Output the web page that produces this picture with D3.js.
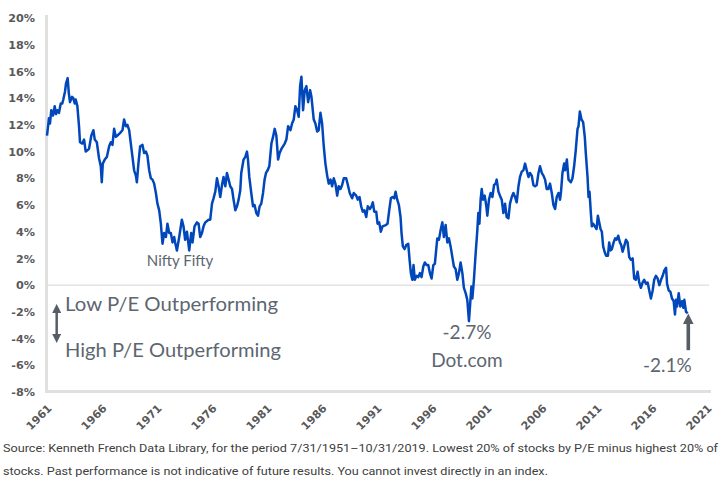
<!DOCTYPE html>
<html><head><meta charset="utf-8">
<script src="https://cdn.jsdelivr.net/npm/d3@7"></script>
<style>body{margin:0;background:#fff}svg{display:block}</style>
</head><body><svg id="c" width="721" height="498"></svg>
<script>
const years = [1961.5,1961.68,1961.77,1961.89,1962.05,1962.20,1962.32,1962.44,1962.59,1962.75,1962.89,1962.98,1963.14,1963.23,1963.38,1963.48,1963.59,1963.78,1963.89,1964.02,1964.11,1964.26,1964.41,1964.50,1964.71,1964.87,1965.02,1965.17,1965.32,1965.53,1965.72,1965.84,1966.03,1966.23,1966.39,1966.48,1966.57,1966.75,1966.94,1967.15,1967.30,1967.45,1967.60,1967.76,1967.90,1968.15,1968.36,1968.51,1968.67,1968.81,1968.97,1969.12,1969.27,1969.42,1969.58,1969.67,1969.81,1969.97,1970.18,1970.33,1970.49,1970.63,1970.79,1970.94,1971.09,1971.24,1971.40,1971.54,1971.70,1971.85,1972.00,1972.15,1972.31,1972.45,1972.61,1972.76,1972.91,1973.06,1973.15,1973.31,1973.52,1973.76,1973.91,1974.06,1974.22,1974.43,1974.61,1974.73,1974.91,1975.13,1975.28,1975.43,1975.59,1975.73,1975.89,1976.19,1976.34,1976.50,1976.64,1976.80,1976.95,1977.10,1977.25,1977.41,1977.55,1977.71,1977.86,1978.01,1978.16,1978.32,1978.46,1978.62,1978.77,1978.92,1979.07,1979.16,1979.37,1979.53,1979.68,1979.77,1979.89,1980.07,1980.23,1980.37,1980.53,1980.68,1980.83,1980.98,1981.14,1981.28,1981.41,1981.56,1981.71,1981.90,1982.05,1982.20,1982.35,1982.51,1982.65,1982.81,1983.11,1983.26,1983.42,1983.63,1983.78,1983.93,1984.08,1984.24,1984.38,1984.51,1984.63,1984.78,1984.93,1985.08,1985.24,1985.42,1985.54,1985.75,1985.90,1986.06,1986.20,1986.36,1986.51,1986.66,1986.81,1986.97,1987.11,1987.27,1987.42,1987.57,1987.72,1987.88,1988.02,1988.18,1988.33,1988.48,1988.70,1988.88,1989.02,1989.24,1989.39,1989.61,1989.75,1989.91,1990.06,1990.21,1990.36,1990.52,1990.66,1990.85,1991.00,1991.12,1991.25,1991.43,1991.55,1991.70,1991.85,1992.00,1992.30,1992.46,1992.61,1992.76,1992.91,1993.07,1993.19,1993.34,1993.49,1993.64,1993.73,1993.85,1994.01,1994.16,1994.34,1994.46,1994.58,1994.71,1994.82,1994.94,1995.10,1995.25,1995.40,1995.55,1995.71,1995.85,1996.01,1996.16,1996.31,1996.46,1996.62,1996.76,1996.98,1997.13,1997.28,1997.44,1997.58,1997.74,1997.89,1998.04,1998.19,1998.35,1998.49,1998.65,1998.80,1998.95,1999.10,1999.26,1999.40,1999.56,1999.71,1999.86,2000.08,2000.17,2000.31,2000.47,2000.62,2000.71,2000.81,2000.92,2001.02,2001.13,2001.29,2001.44,2001.53,2001.68,2001.83,2001.99,2002.14,2002.29,2002.38,2002.54,2002.68,2002.84,2002.99,2003.14,2003.29,2003.45,2003.59,2003.75,2003.90,2004.05,2004.20,2004.36,2004.50,2004.66,2004.81,2004.96,2005.11,2005.27,2005.41,2005.57,2005.72,2005.87,2006.02,2006.18,2006.32,2006.48,2006.63,2006.78,2006.93,2007.09,2007.23,2007.39,2007.54,2007.69,2007.84,2008.00,2008.14,2008.23,2008.36,2008.51,2008.60,2008.76,2008.91,2009.12,2009.27,2009.42,2009.57,2009.73,2009.82,2009.94,2010.09,2010.24,2010.39,2010.48,2010.64,2010.73,2010.82,2010.94,2011.03,2011.15,2011.30,2011.46,2011.58,2011.70,2011.82,2011.94,2012.06,2012.19,2012.33,2012.49,2012.61,2012.73,2012.85,2013.01,2013.15,2013.28,2013.43,2013.58,2013.70,2013.83,2013.97,2014.13,2014.28,2014.43,2014.58,2014.74,2014.88,2015.03,2015.19,2015.34,2015.49,2015.65,2015.79,2015.95,2016.10,2016.25,2016.40,2016.56,2016.70,2016.86,2017.01,2017.17,2017.32,2017.47,2017.62,2017.78,2017.87,2018.02,2018.17,2018.32,2018.47,2018.59,2018.68,2018.77,2018.93,2019.07,2019.23,2019.35,2019.44,2019.59,2019.75];
const values = [11.2,12.5,12.1,13.1,12.7,13.4,12.8,13.1,12.9,13.6,13.6,13.9,14.5,15.1,15.5,14.4,13.7,14.1,14.0,13.6,13.9,13.4,11.9,10.7,10.6,10.9,10.0,10.1,10.2,11.2,11.6,10.9,10.7,9.5,8.9,7.7,9.1,9.4,9.6,10.4,10.7,10.5,11.7,11.1,11.2,11.4,11.6,12.4,11.9,12.0,11.6,10.6,9.6,8.6,8.2,7.7,9.1,10.4,10.5,9.9,10.0,9.7,8.6,8.0,7.9,7.6,6.9,6.1,5.6,4.6,3.1,3.9,3.6,4.6,3.9,3.9,3.2,3.6,3.2,2.6,3.6,4.9,4.4,3.4,4.0,2.6,3.9,3.2,4.4,4.7,4.6,3.6,3.9,4.4,4.7,4.9,4.9,6.1,6.5,7.0,8.0,7.4,6.6,7.5,8.1,7.4,8.4,7.9,7.4,7.2,6.4,5.6,5.9,6.4,7.1,8.4,9.4,9.6,10.0,9.4,8.1,6.9,5.9,6.0,5.4,5.2,5.9,6.1,6.9,7.9,8.4,8.6,8.9,10.6,11.1,11.7,11.2,9.4,9.9,10.2,10.6,10.9,11.9,11.6,12.1,12.4,13.4,13.1,12.6,14.9,15.6,13.1,14.6,14.9,13.7,14.6,14.1,12.4,12.1,11.5,11.6,12.9,12.1,10.4,9.1,8.2,7.6,7.9,7.4,8.0,7.6,6.7,7.4,7.2,7.5,8.0,8.0,7.4,6.9,6.5,6.9,6.7,6.4,6.6,5.9,5.5,5.6,5.1,5.9,5.7,5.9,6.2,5.5,5.5,4.6,4.7,4.0,4.4,4.5,4.6,5.6,6.5,6.6,6.5,7.0,6.4,6.0,5.1,3.9,2.9,2.7,3.0,3.1,1.9,0.9,0.4,1.5,0.4,0.7,0.6,0.9,0.6,1.4,1.7,1.5,1.5,0.9,0.5,1.5,1.6,3.5,3.4,4.1,4.7,3.6,4.5,3.2,3.5,2.9,2.1,1.4,1.2,0.4,0.9,1.7,0.9,-0.2,-0.6,-1.1,-2.7,-0.1,-1.0,0.4,2.4,4.1,5.4,4.6,6.4,7.2,6.4,6.7,5.9,5.2,6.4,6.9,6.6,7.5,7.6,7.9,7.0,6.7,6.4,5.4,6.1,5.1,5.0,6.1,6.6,6.9,6.6,6.2,7.4,8.1,8.5,8.6,9.1,8.6,8.1,8.4,8.2,7.5,7.4,7.5,8.4,8.9,8.4,8.2,7.9,7.2,7.2,7.6,6.9,6.0,5.7,6.6,6.9,6.4,7.0,8.4,9.1,8.6,9.4,7.9,7.7,8.0,8.9,10.1,11.7,11.9,13.0,12.4,12.2,11.1,9.9,8.1,6.6,7.0,5.4,4.4,4.6,4.4,4.2,5.2,4.7,4.2,4.0,2.9,2.5,2.2,2.2,3.2,2.6,2.7,3.2,3.5,3.4,3.7,3.2,3.0,2.5,2.9,3.4,3.2,2.1,1.9,2.0,0.5,0.4,1.0,0.2,-0.2,0.2,0.4,0.1,0.2,-0.4,-1.0,-0.4,0.4,0.7,0.5,0.0,0.4,0.7,1.1,1.3,0.1,-0.4,-0.5,-1.0,-1.2,-2.2,-1.1,-1.6,-0.6,-1.6,-1.2,-1.7,-1.1,-2.0,-2.1];
const yTicks = [-8,-6,-4,-2,0,2,4,6,8,10,12,14,16,18,20];
const xTickYears = [1961,1966,1971,1976,1981,1986,1991,1996,2001,2006,2011,2016,2021];
const sourceLines = [
  "Source: Kenneth French Data Library, for the period 7/31/1951\u201310/31/2019. Lowest 20% of stocks by P/E minus highest 20% of",
  "stocks. Past performance is not indicative of future results. You cannot invest directly in an index."
];
const labelLow = "Low P/E Outperforming";
const labelHigh = "High P/E Outperforming";
const labelNifty = "Nifty Fifty";
const labelDot = "Dot.com";
const labelDotVal = "-2.7%";
const labelLast = "-2.1%";

const svg = d3.select("#c");
const x = d3.scaleLinear().domain([1961.5, 2021.5]).range([47, 707]);
const y = d3.scaleLinear().domain([-8, 20]).range([392, 18]);
const grey = "#595959";
const annColor = "#5d6670";

// axes lines
svg.append("line").attr("x1", 46.5).attr("x2", 46.5).attr("y1", 15).attr("y2", 393)
  .attr("stroke", "#e0e0e0").attr("stroke-width", 3);
svg.append("line").attr("x1", 45).attr("x2", 711).attr("y1", 391.5).attr("y2", 391.5)
  .attr("stroke", "#e0e0e0").attr("stroke-width", 3);
svg.append("line").attr("x1", 47).attr("x2", 709).attr("y1", y(0)).attr("y2", y(0))
  .attr("stroke", "#d6d6d6").attr("stroke-width", 1);

// y axis labels
const yAxis = d3.axisLeft(y).tickValues(yTicks).tickSize(0).tickPadding(0).tickFormat(d => d + "%");
const gy = svg.append("g").attr("transform", "translate(35,0)").call(yAxis);
gy.select(".domain").remove();
gy.selectAll("text").attr("font-family", "DejaVu Sans").attr("font-weight", "bold")
  .attr("font-size", 11.2).attr("fill", grey);

// x axis labels
const xAxis = d3.axisBottom(x).tickValues(xTickYears.map(v => v + 0.5)).tickSize(0).tickFormat(d => String(Math.floor(d)));
const gx = svg.append("g").attr("transform", "translate(0,392)").call(xAxis);
gx.select(".domain").remove();
gx.selectAll("text").attr("font-family", "DejaVu Sans").attr("font-weight", "bold")
  .attr("font-size", 11).attr("fill", grey)
  .attr("text-anchor", "end").attr("dy", 0).attr("y", 0)
  .attr("transform", "translate(5,17) rotate(-45)");

// line
const data = years.map((d, i) => [d, values[i]]);
svg.append("path").datum(data)
  .attr("fill", "none").attr("stroke", "#0047bb").attr("stroke-width", 2.5)
  .attr("stroke-linejoin", "round")
  .attr("d", d3.line().x(d => x(d[0])).y(d => y(d[1])));

// annotations
function ann(t, xv, yv, size, anchor) {
  return svg.append("text").attr("x", x(xv)).attr("y", y(yv)).text(t)
    .attr("font-family", "Lato").attr("font-size", size).attr("fill", annColor)
    .attr("text-anchor", anchor || "middle");
}
ann(labelNifty, 1973.6, 1.42, 15);
ann(labelLow, 1963.14, -1.95, 19.5, "start").attr("textLength", 213).attr("lengthAdjust", "spacingAndGlyphs");
ann(labelHigh, 1963.14, -5.4, 19.5, "start").attr("textLength", 216).attr("lengthAdjust", "spacingAndGlyphs");
ann(labelDotVal, 1999.68, -4.04, 19);
ann(labelDot, 1999.68, -6.1, 19);
ann(labelLast, 2017.9, -6.5, 19);

// arrows
const defs = svg.append("defs");
defs.append("marker").attr("id", "ah").attr("viewBox", "0 0 10 10").attr("refX", 5).attr("refY", 5)
  .attr("markerWidth", 3.6).attr("markerHeight", 3.6).attr("orient", "auto-start-reverse")
  .append("path").attr("d", "M0,0 L10,5 L0,10 z").attr("fill", "#555d66");
defs.append("marker").attr("id", "ah2").attr("viewBox", "0 0 10 10").attr("refX", 5).attr("refY", 5)
  .attr("markerWidth", 3).attr("markerHeight", 3).attr("orient", "auto")
  .append("path").attr("d", "M0,0 L10,5 L0,10 z").attr("fill", "#555d66");
svg.append("line").attr("x1", x(1962.38)).attr("x2", x(1962.38))
  .attr("y1", y(-1.37) + 5).attr("y2", y(-4.37) - 5)
  .attr("stroke", "#555d66").attr("stroke-width", 2.5)
  .attr("marker-start", "url(#ah)").attr("marker-end", "url(#ah)");
svg.append("line").attr("x1", x(2019.8)).attr("x2", x(2019.8))
  .attr("y1", y(-4.87)).attr("y2", y(-2.07) + 6)
  .attr("stroke", "#555d66").attr("stroke-width", 3.6)
  .attr("marker-end", "url(#ah2)");

// source
const src = svg.append("g").attr("font-family", "Roboto").attr("font-size", 11.5).attr("fill", "#404040");
const t1 = src.append("text").attr("x", 3).attr("y", 452).text(sourceLines[0]);
const t2 = src.append("text").attr("x", 3).attr("y", 475).text(sourceLines[1]);
const w1 = t1.node().getComputedTextLength();
const w2 = t2.node().getComputedTextLength();
const k = 715 / w1;
t1.attr("textLength", 715).attr("lengthAdjust", "spacingAndGlyphs");
t2.attr("textLength", w2 * k).attr("lengthAdjust", "spacingAndGlyphs");
</script></body></html>
